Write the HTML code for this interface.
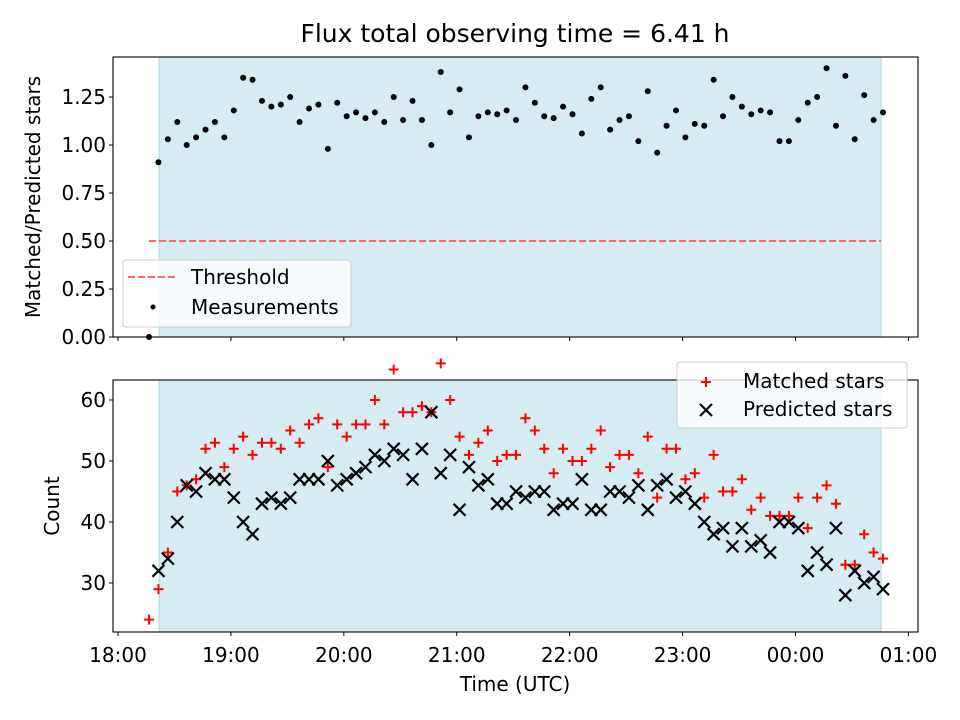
<!DOCTYPE html>
<html><head><meta charset="utf-8"><style>
body{margin:0;background:#fff;}
svg{display:block;font-family:"DejaVu Sans","Liberation Sans",sans-serif;}
</style></head><body>
<svg id="c" width="960" height="720" xmlns="http://www.w3.org/2000/svg"></svg>
<script>
const times=[16.5,21.5,26.5,31.5,36.5,41.5,46.5,51.5,56.5,61.5,66.5,71.5,76.5,81.5,86.5,91.5,96.5,101.5,106.5,111.5,116.5,121.5,126.5,131.5,136.5,141.5,146.5,151.5,156.5,161.5,166.5,171.5,176.5,181.5,186.5,191.5,196.5,201.5,206.5,211.5,216.5,221.5,226.5,231.5,236.5,241.5,246.5,251.5,256.5,261.5,266.5,271.5,276.5,281.5,286.5,291.5,296.5,301.5,306.5,311.5,316.5,321.5,326.5,331.5,336.5,341.5,346.5,351.5,356.5,361.5,366.5,371.5,376.5,381.5,386.5,391.5,396.5,401.5,406.5];
const ratio=[0.0,0.91,1.03,1.12,1.0,1.04,1.08,1.12,1.04,1.18,1.35,1.34,1.23,1.20,1.21,1.25,1.12,1.19,1.21,0.98,1.22,1.15,1.17,1.14,1.17,1.12,1.25,1.13,1.23,1.13,1.00,1.38,1.17,1.29,1.04,1.15,1.17,1.16,1.18,1.13,1.30,1.22,1.15,1.14,1.20,1.16,1.06,1.24,1.30,1.08,1.13,1.15,1.02,1.28,0.96,1.10,1.18,1.04,1.11,1.10,1.34,1.15,1.25,1.20,1.16,1.18,1.17,1.02,1.02,1.13,1.22,1.25,1.40,1.10,1.36,1.03,1.26,1.13,1.17];
const matched=[24,29,35,45,46,47,52,53,49,52,54,51,53,53,52,55,53,56,57,49,56,54,56,56,60,56,65,58,58,59,58,66,60,54,51,53,55,50,51,51,57,55,52,48,52,50,50,52,55,49,51,51,48,54,44,52,52,47,48,44,51,45,45,47,42,44,41,41,41,44,39,44,46,43,33,33,38,35,34];
const predicted=[null,32,34,40,46,45,48,47,47,44,40,38,43,44,43,44,47,47,47,50,46,47,48,49,51,50,52,51,47,52,58,48,51,42,49,46,47,43,43,45,44,45,45,42,43,43,47,42,42,45,45,44,46,42,46,47,44,45,43,40,38,39,36,39,36,37,35,40,40,39,32,35,33,39,28,32,30,31,29];
const xTickVals=[0,60,120,180,240,300,360,420];
const xTickLabels=["18:00","19:00","20:00","21:00","22:00","23:00","00:00","01:00"];
const yTopTicks=[0,0.25,0.5,0.75,1.0,1.25];
const yBotTicks=[30,40,50,60];
const threshold=0.5, spanStart=21.8, spanEnd=405.5;

const NS="http://www.w3.org/2000/svg";
const svg=document.getElementById('c');
function mk(tag,attrs,parent){const e=document.createElementNS(NS,tag);for(const k in attrs)e.setAttribute(k,attrs[k]);(parent||svg).appendChild(e);return e;}
const FS='font-size:20px';
const L=113,R=918,T1=57,B1=337,T2=380,B2=632;
const xMin=-2.66,xMax=425.1;
const X=v=>L+(v-xMin)/(xMax-xMin)*(R-L);
const Y1=v=>337-v*192;
const Y2=v=>400+(60-v)*6.1;

let t=mk('text',{x:515,y:42,'text-anchor':'middle',style:'font-size:25px',fill:'#000'});t.textContent='Flux total observing time = 6.41 h';



function panel(top,bot,name){
  const g=mk('g',{});
  
  
  let s=mk('rect',{x:X(spanStart),y:top,width:X(spanEnd)-X(spanStart),height:bot-top,fill:'#add8e6','fill-opacity':'0.5',stroke:'#add8e6'},g);
  
  
  return g;
}
const g1=panel(T1,B1,'ratio-panel');
const g2=panel(T2,B2,'count-panel');

let th=mk('line',{x1:X(times[0]),x2:X(spanEnd),y1:Y1(threshold),y2:Y1(threshold),stroke:'#ff6666','stroke-width':2,'stroke-dasharray':'7,3'},g1);



times.forEach((tm,i)=>{
  const c=mk('circle',{cx:X(tm),cy:Y1(ratio[i]),r:3,fill:'#000'},g1);
  
  
});
times.forEach((tm,i)=>{
  const x=X(tm),y=Y2(matched[i]);
  const p=mk('path',{d:`M${x-5} ${y}H${x+5}M${x} ${y-5}V${y+5}`,stroke:'#f00','stroke-width':2},g2);
  
  
});
times.forEach((tm,i)=>{
  if(predicted[i]==null)return;
  const x=X(tm),y=Y2(predicted[i]);
  const p=mk('path',{d:`M${x-6} ${y-6}L${x+6} ${y+6}M${x-6} ${y+6}L${x+6} ${y-6}`,stroke:'#000','stroke-width':2.2},g2);
  
  
});

function frame(top,bot,name){
  const r=mk('rect',{x:L,y:top,width:R-L,height:bot-top,fill:'none',stroke:'#000','stroke-width':1.1});
  
  
}
frame(T1,B1,'ratio-axes-frame');frame(T2,B2,'count-axes-frame');

xTickVals.forEach((v,i)=>{
  const x=X(v);
  mk('line',{x1:x,x2:x,y1:B1,y2:B1+4,stroke:'#000'});
  mk('line',{x1:x,x2:x,y1:B2,y2:B2+4,stroke:'#000'});
  const tx=mk('text',{x:x,y:B2+30,'text-anchor':'middle',style:FS});tx.textContent=xTickLabels[i];
  
  
});
yTopTicks.forEach(v=>{
  const y=Y1(v);
  mk('line',{x1:L-4,x2:L,y1:y,y2:y,stroke:'#000'});
  const tx=mk('text',{x:L-7,y:y+7,'text-anchor':'end',style:FS});tx.textContent=v.toFixed(2);
  
  
});
yBotTicks.forEach(v=>{
  const y=Y2(v);
  mk('line',{x1:L-4,x2:L,y1:y,y2:y,stroke:'#000'});
  const tx=mk('text',{x:L-7,y:y+7,'text-anchor':'end',style:FS});tx.textContent=v;
  
  
});
let xl=mk('text',{x:515,y:691,'text-anchor':'middle',style:FS});xl.textContent='Time (UTC)';


let yl1=mk('text',{x:0,y:0,transform:'translate(40,197) rotate(-90)','text-anchor':'middle',style:FS});yl1.textContent='Matched/Predicted stars';


let yl2=mk('text',{x:0,y:0,transform:'translate(59,506) rotate(-90)','text-anchor':'middle',style:FS});yl2.textContent='Count';



const lg1=mk('g',{});


mk('rect',{x:123,y:260,width:228,height:67,rx:3,fill:'#fff','fill-opacity':'0.8',stroke:'#ccc'},lg1);
mk('line',{x1:128,x2:175,y1:277,y2:277,stroke:'#ff6666','stroke-width':2,'stroke-dasharray':'7,3'},lg1);
let a=mk('text',{x:191,y:284,style:FS},lg1);a.textContent='Threshold';
mk('circle',{cx:153,cy:307,r:2.5,fill:'#000'},lg1);
a=mk('text',{x:191,y:314,style:FS},lg1);a.textContent='Measurements';

const lg2=mk('g',{});


mk('rect',{x:677,y:362,width:230,height:66,rx:3,fill:'#fff','fill-opacity':'0.8',stroke:'#ccc'},lg2);
mk('path',{d:'M701 382H711M706 377V387',stroke:'#f00','stroke-width':2},lg2);
a=mk('text',{x:743,y:388,style:FS},lg2);a.textContent='Matched stars';
mk('path',{d:'M700 404L712 416M700 416L712 404',stroke:'#000','stroke-width':2.2},lg2);
a=mk('text',{x:743,y:416,style:FS},lg2);a.textContent='Predicted stars';
</script>
</body></html>
